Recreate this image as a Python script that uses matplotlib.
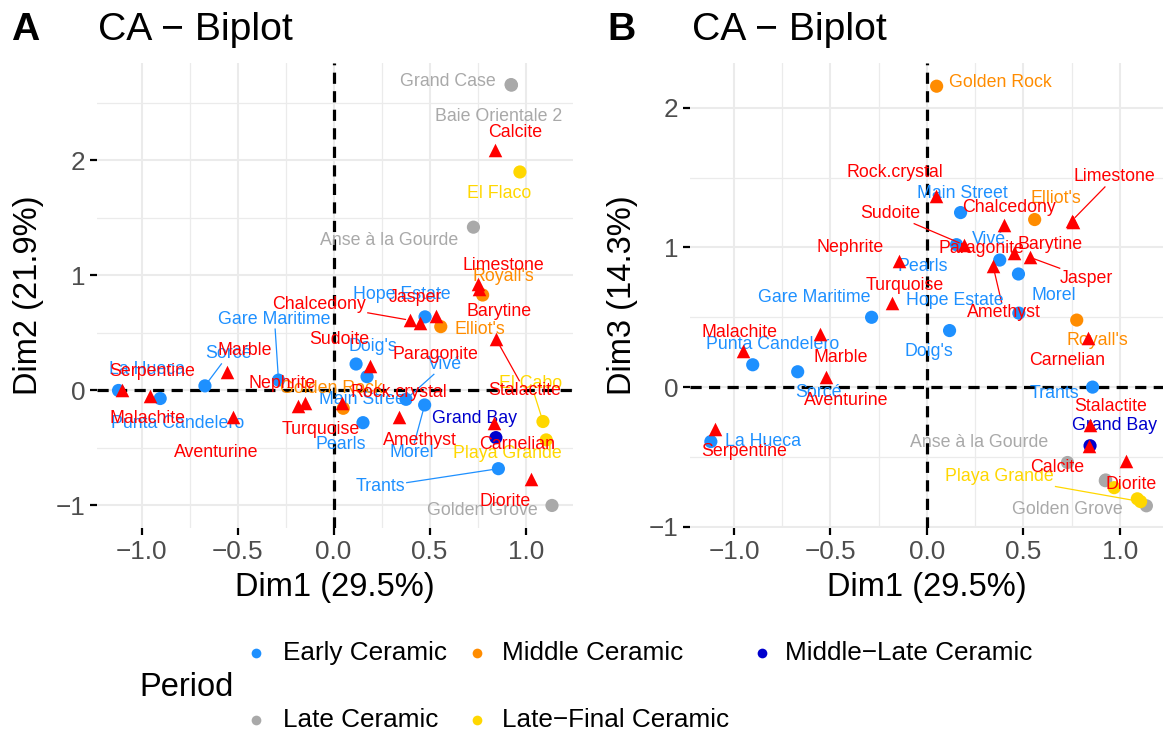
import matplotlib
matplotlib.use("Agg")
import matplotlib.pyplot as plt
from matplotlib.lines import Line2D
from matplotlib import ticker
import numpy as np

plt.rcParams['font.family'] = ['Liberation Sans', 'DejaVu Sans']

# ---------------- data ----------------
sites = ["La Hueca", "Punta Candelero", "Sorcé", "Gare Maritime", "Doig's", "Main Street",
         "Pearls", "Vivé", "Morel", "Hope Estate", "Trants",
         "Golden Rock", "Royall's", "Elliot's",
         "Grand Bay",
         "Grand Case", "Baie Orientale 2", "Anse à la Gourde", "Golden Grove",
         "El Flaco", "El Cabo", "Playa Grande"]
site_period = (["Early Ceramic"] * 11 + ["Middle Ceramic"] * 3 + ["Middle\u2212Late Ceramic"]
               + ["Late Ceramic"] * 4 + ["Late\u2212Final Ceramic"] * 3)
site_dim1 = [-1.12, -0.903, -0.67, -0.287, 0.117, 0.174, 0.153, 0.377, 0.474, 0.476, 0.858,
             0.05, 0.776, 0.558, 0.845, 0.924, 0.926, 0.728, 1.137, 0.97, 1.09, 1.107]
site_dim2 = [0.00, -0.07, 0.04, 0.09, 0.23, 0.12, -0.28, -0.077, -0.126, 0.64, -0.68,
             -0.155, 0.83, 0.555, -0.41, 2.66, 2.655, 1.42, -1.0, 1.90, -0.27, -0.43]
site_dim3 = [-0.39, 0.16, 0.11, 0.50, 0.405, 1.25, 1.02, 0.91, 0.81, 0.53, 0.0,
             2.155, 0.48, 1.20, -0.42, -0.67, -0.665, -0.54, -0.85, -0.72, -0.80, -0.82]

minerals = ["Serpentine", "Malachite", "Marble", "Aventurine", "Turquoise", "Nephrite",
            "Rock.crystal", "Sudoite", "Amethyst", "Chalcedony", "Paragonite", "Jasper",
            "Limestone", "Barytine", "Carnelian", "Stalactite", "Calcite", "Diorite"]
min_dim1 = [-1.10, -0.955, -0.554, -0.525, -0.183, -0.147, 0.046, 0.19, 0.342, 0.40, 0.452,
            0.533, 0.75, 0.755, 0.836, 0.845, 0.838, 1.03]
min_dim2 = [0.00, -0.05, 0.16, -0.23, -0.135, -0.106, -0.106, 0.21, -0.233, 0.61, 0.59,
            0.65, 0.93, 0.88, -0.28, 0.45, 2.09, -0.77]
min_dim3 = [-0.30, 0.26, 0.38, 0.07, 0.60, 0.90, 1.37, 1.02, 0.87, 1.16, 0.96,
            0.93, 1.19, 1.18, 0.35, -0.27, -0.42, -0.53]

periods = ["Early Ceramic", "Middle Ceramic", "Middle\u2212Late Ceramic",
           "Late Ceramic", "Late\u2212Final Ceramic"]

# ---------------- styles / layout ----------------
period_colors = {"Early Ceramic": "#1E90FF", "Middle Ceramic": "#FF8C00",
                 "Middle\u2212Late Ceramic": "#0000CD", "Late Ceramic": "#A9A9A9",
                 "Late\u2212Final Ceramic": "#FFD700"}
mineral_color = "#FF0000"

# label offsets in pixels (dx right, dy down), and whether a segment is drawn
site_lab_A = {
    "La Hueca": (28, -21, 0), "Punta Candelero": (17, 25, 0), "Sorcé": (24, -32, 1),
    "Gare Maritime": (-4, -61, 1), "Doig's": (17, -18, 0), "Main Street": (-3, 23, 0),
    "Pearls": (-22, 22, 0), "Vivé": (39, -35, 1), "Morel": (-13, 48, 1),
    "Hope Estate": (-23, -22, 0), "Trants": (-118, 18, 1), "Golden Rock": (-12, -20, 0),
    "Royall's": (21, -19, 0), "Elliot's": (39, 3, 0), "Grand Bay": (-21, -19, 0),
    "Grand Case": (-63, -3, 0), "Baie Orientale 2": (-13, 31, 0),
    "Anse à la Gourde": (-84, 13, 0), "Golden Grove": (-70, 5, 0), "El Flaco": (-21, 22, 0),
    "El Cabo": (-12, -38, 1), "Playa Grande": (-39, 14, 0)}
min_lab_A = {
    "Serpentine": (30, -19, 0), "Malachite": (-3, 22, 0), "Marble": (18, -22, 0),
    "Aventurine": (-17, 36, 0), "Turquoise": (22, 24, 0), "Nephrite": (-23, -19, 0),
    "Rock.crystal": (56, -10, 0), "Sudoite": (-31, -27, 0), "Amethyst": (21, 23, 0),
    "Chalcedony": (-91, -16, 1), "Paragonite": (15, 32, 0), "Jasper": (-21, -18, 0),
    "Limestone": (26, -18, 0), "Barytine": (20, 22, 0), "Carnelian": (23, 22, 0),
    "Stalactite": (29, 52, 1), "Calcite": (21, -18, 0), "Diorite": (-26, 22, 0)}
site_lab_B = {
    "La Hueca": (52, 0, 0), "Punta Candelero": (20, -20, 0), "Sorcé": (21, 21, 0),
    "Gare Maritime": (-57, -20, 0), "Doig's": (-21, 21, 0), "Main Street": (2, -19, 0),
    "Pearls": (-34, 22, 0), "Vivé": (-11, -21, 0), "Morel": (35, 21, 0),
    "Hope Estate": (-64, -13, 0), "Trants": (-38, 6, 0), "Golden Rock": (64, -4, 0),
    "Royall's": (21, 20, 0), "Elliot's": (21, -21, 0), "Grand Bay": (24, -20, 0),
    "Anse à la Gourde": (-88, -20, 0), "Golden Grove": (-79, 4, 0),
    "Playa Grande": (-141, -25, 1)}
min_lab_B = {
    "Serpentine": (29, 23, 0), "Malachite": (-3, -18, 0), "Marble": (21, 23, 0),
    "Aventurine": (21, 23, 0), "Turquoise": (13, -18, 0), "Nephrite": (-48, -14, 0),
    "Rock.crystal": (-41, -23, 0), "Sudoite": (-73, -31, 1), "Amethyst": (11, 47, 1),
    "Chalcedony": (5, -18, 0), "Paragonite": (-33, -5, 0), "Jasper": (57, 21, 1),
    "Limestone": (43, -44, 1), "Barytine": (-23, 22, 0), "Carnelian": (-21, 22, 0),
    "Stalactite": (21, -18, 0), "Calcite": (-32, 22, 0), "Diorite": (5, 23, 0)}

W, H = 1164, 736
BASE = 23.5
fig = plt.figure(figsize=(W / 100, H / 100), dpi=100)


def fx(px):
    return px / W


def fy(py):
    return 1 - py / H


def make_axes(left, right, top, bottom):
    return fig.add_axes([fx(left), fy(bottom), (right - left) / W, (bottom - top) / H])


axA = make_axes(97, 573.3, 63.3, 528)
axB = make_axes(690, 1163, 63.3, 528)

minus = lambda s: s.replace('-', '\u2212')

seg_jobs = []


def draw_panel(ax, sy, my, ylabel, xlim, ylim, site_lab, min_lab):
    ax.set_xlim(*xlim)
    ax.set_ylim(*ylim)
    ax.set_autoscale_on(False)
    for sp in ax.spines.values():
        sp.set_visible(False)
    ax.xaxis.set_major_locator(ticker.MultipleLocator(0.5))
    ax.xaxis.set_minor_locator(ticker.MultipleLocator(0.25))
    ax.yaxis.set_major_locator(ticker.MultipleLocator(1.0))
    ax.yaxis.set_minor_locator(ticker.MultipleLocator(0.5))
    ax.xaxis.set_major_formatter(ticker.FuncFormatter(lambda v, p: minus('%.1f' % v)))
    ax.yaxis.set_major_formatter(ticker.FuncFormatter(lambda v, p: minus('%d' % round(v))))
    ax.grid(which='major', color='#EBEBEB', lw=1.5, zorder=0)
    ax.grid(which='minor', color='#EBEBEB', lw=0.9, zorder=0)
    ax.set_axisbelow(True)
    ax.tick_params(which='major', length=5, width=1.6, color='black',
                   labelsize=BASE * 0.8, labelcolor='#4D4D4D', pad=3.5)
    ax.tick_params(which='minor', length=0)
    ax.axhline(0, color='black', lw=2.3, ls=(0, (3.5, 2.3)), zorder=2)
    ax.axvline(0, color='black', lw=2.3, ls=(0, (3.5, 2.3)), zorder=2)

    ax.set_xlabel('Dim1 (29.5%)', fontsize=BASE)
    ax.set_ylabel(ylabel, fontsize=BASE)
    ax.xaxis.set_label_coords(0.5, -0.129)
    ax.xaxis.label.set_va('center')
    ax.yaxis.set_label_coords(-68 / (ax.get_position().width * W), 0.5)
    ax.yaxis.label.set_va('center')

    cols = [period_colors[p] for p in site_period]
    ax.scatter(site_dim1, sy, c=cols, s=90, marker='o', linewidths=0, zorder=3)
    for name, x, y, c in zip(sites, site_dim1, sy, cols):
        if name not in site_lab:
            continue
        dx, dy, seg = site_lab[name]
        a = ax.annotate(name, xy=(x, y), xytext=(dx, -dy), textcoords='offset pixels',
                        ha='center', va='center', fontsize=12.8, color=c, zorder=4,
                        annotation_clip=False)
        if seg:
            seg_jobs.append((ax, a, x, y, c))
    ax.scatter(min_dim1, my, c=mineral_color, s=95, marker='^', linewidths=0, zorder=5)
    for name, x, y in zip(minerals, min_dim1, my):
        if name not in min_lab:
            continue
        dx, dy, seg = min_lab[name]
        a = ax.annotate(name, xy=(x, y), xytext=(dx, -dy), textcoords='offset pixels',
                        ha='center', va='center', fontsize=12.8, color=mineral_color,
                        zorder=6, annotation_clip=False)
        if seg:
            seg_jobs.append((ax, a, x, y, mineral_color))


draw_panel(axA, site_dim2, min_dim2, 'Dim2 (21.9%)', (-1.232, 1.248), (-1.196, 2.845),
           site_lab_A, min_lab_A)
draw_panel(axB, site_dim3, min_dim3, 'Dim3 (14.3%)', (-1.228, 1.223), (-1.009, 2.319),
           site_lab_B, min_lab_B)

# titles and tags
for tx, lx, tag in [(98, 11, 'A'), (692, 607, 'B')]:
    fig.text(fx(lx), fy(40), tag, fontsize=BASE * 1.2, fontweight='bold', va='baseline')
    fig.text(fx(tx), fy(40), 'CA \u2212 Biplot', fontsize=BASE * 1.2, va='baseline')

# legend (manual, bottom)
fig.text(fx(139), fy(688), 'Period', fontsize=BASE, va='center', ha='left')
leg_pos = [(256, 283, 653), (477, 502, 653), (761.6, 785, 653), (256, 283, 720), (477, 502, 720)]
for p, (dxp, txp, yp) in zip(periods, leg_pos):
    fig.add_artist(Line2D([fx(dxp)], [fy(yp)], marker='o', markersize=7, linestyle='none',
                          color=period_colors[p], markeredgewidth=0, transform=fig.transFigure))
    fig.text(fx(txp), fy(yp), p, fontsize=BASE * 0.8, va='center', ha='left')

# repel-style segments
fig.canvas.draw()
renderer = fig.canvas.get_renderer()
for ax, ann, x, y, c in seg_jobs:
    bb = ann.get_window_extent(renderer)
    p = ax.transData.transform((x, y))
    cx, cy = (bb.x0 + bb.x1) / 2, (bb.y0 + bb.y1) / 2
    ddx, ddy = cx - p[0], cy - p[1]
    hw, hh = bb.width / 2 + 1.5, bb.height / 2 + 1.5
    s = min(hw / abs(ddx) if abs(ddx) > 1e-9 else np.inf,
            hh / abs(ddy) if abs(ddy) > 1e-9 else np.inf)
    if s >= 1:
        continue
    end = (cx - ddx * s, cy - ddy * s)
    L = np.hypot(end[0] - p[0], end[1] - p[1])
    if L < 8:
        continue
    ux, uy = (end[0] - p[0]) / L, (end[1] - p[1]) / L
    start = (p[0] + ux * 5, p[1] + uy * 5)
    inv = ax.transData.inverted()
    s0 = inv.transform(start)
    e0 = inv.transform(end)
    ax.plot([s0[0], e0[0]], [s0[1], e0[1]], color=c, lw=0.9, zorder=3.5, clip_on=False)

fig.savefig('out.png', dpi=100)
